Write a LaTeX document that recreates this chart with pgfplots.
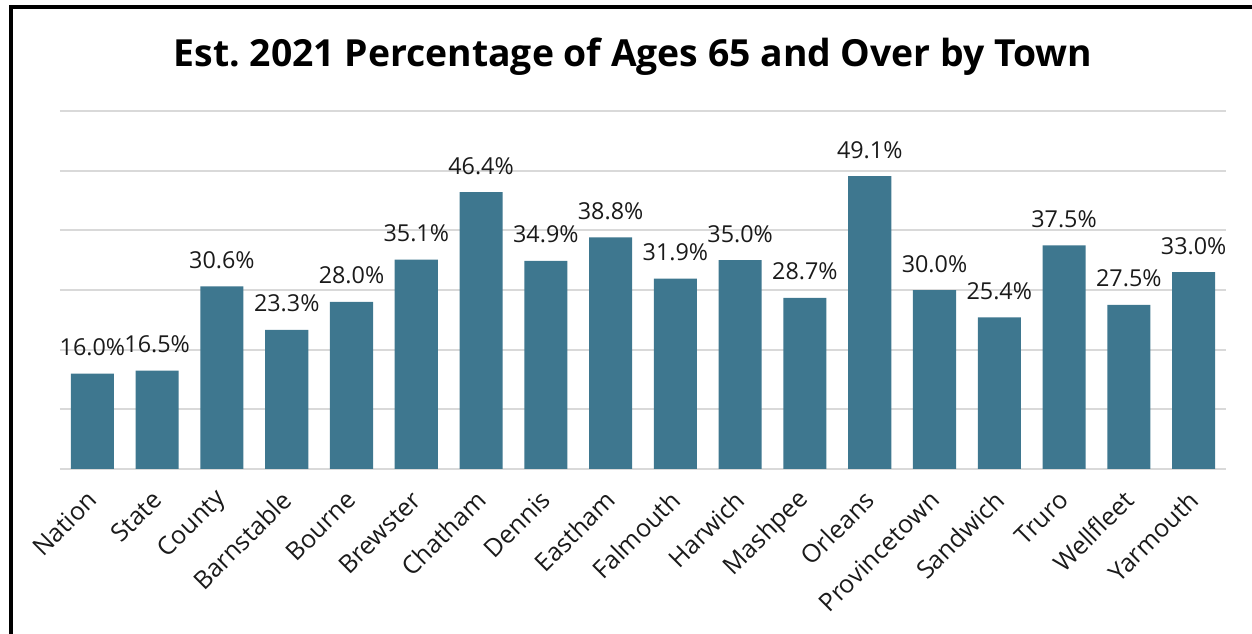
\documentclass[border=0pt]{standalone}
\usepackage{pgfplots}
\pgfplotsset{compat=1.18}
\usepackage{fontspec}
\setmainfont{Open Sans}
\frenchspacing
\definecolor{barblue}{HTML}{3E778F}
\definecolor{gridgray}{HTML}{D9D9D9}
\definecolor{labelgray}{HTML}{1A1A1A}

\begin{document}
\begin{tikzpicture}
% page area and frame
\path[use as bounding box] (0pt,0pt) rectangle (751.2pt,379.8pt);
\draw[line width=2.4pt] (6.8pt,-5pt) -- (6.8pt,375.6pt) -- (760pt,375.6pt);
\node[anchor=base, font=\bfseries\fontsize{22.4}{27}\selectfont]
  at (379.8pt,339.6pt) {Est.\ 2021 Percentage of Ages 65 and Over by Town};
\begin{axis}[
  at={(36pt,98.4pt)}, anchor=south west,
  scale only axis, width=699.6pt, height=214.8pt,
  xmin=-0.5, xmax=17.5, ymin=0, ymax=60,
  ytick={0,10,...,60}, yticklabels={},
  ymajorgrids, major grid style={gridgray, line width=1.2pt},
  axis line style={draw=none}, tick style={draw=none},
  xtick=data,
  xticklabels={Nation,State,County,Barnstable,Bourne,Brewster,Chatham,Dennis,Eastham,Falmouth,Harwich,Mashpee,Orleans,Provincetown,Sandwich,Truro,Wellfleet,Yarmouth},
  xticklabel shift=13.5pt,
  xticklabel style={xshift=2.5pt, rotate=45, anchor=east, font=\fontsize{15}{17}\selectfont, text=labelgray},
  /pgf/number format/assume math mode=true,
  nodes near coords={\pgfmathprintnumber[fixed, fixed zerofill, precision=1]{\pgfplotspointmeta}\%},
  nodes near coords style={font=\fontsize{14}{16}\selectfont, text=labelgray, anchor=base, yshift=10.8pt},
]
\addplot[ybar, bar width=0.665, fill=barblue, draw=none] coordinates {
  (0,16.0) (1,16.5) (2,30.6) (3,23.3) (4,28.0) (5,35.1) (6,46.4) (7,34.9) (8,38.8)
  (9,31.9) (10,35.0) (11,28.7) (12,49.1) (13,30.0) (14,25.4) (15,37.5) (16,27.5) (17,33.0)
};
\end{axis}
\end{tikzpicture}
\end{document}
